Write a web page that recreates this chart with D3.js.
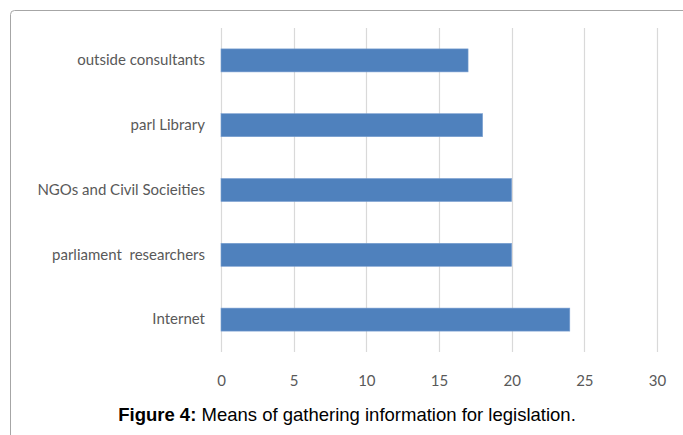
<!DOCTYPE html>
<html><head><meta charset="utf-8">
<script src="https://cdn.jsdelivr.net/npm/d3@7"></script>
<style>body{margin:0;background:#fff}svg{display:block}</style>
</head><body>
<svg id="c" width="683" height="435"></svg>
<script>
const categories = ["outside consultants","parl Library","NGOs and Civil Socieities","parliament  researchers","Internet"];
const values = [17, 18, 20, 20, 24];
const ticks = [0,5,10,15,20,25,30];
const caption = "Means of gathering information for legislation.";

const svg = d3.select("#c");
svg.append("rect").attr("x",10.5).attr("y",10.5).attr("width",690).attr("height",440)
  .attr("rx",4).attr("fill","none").attr("stroke","#a6a6a6").attr("stroke-width",1);

const x = d3.scaleLinear().domain([0,30]).range([221,657]);
const y = d3.scaleBand().domain(categories).range([28,352]).paddingInner(0.645).paddingOuter(0.3225);

const g = svg.append("g");
g.selectAll("line.grid").data(ticks).join("line").attr("class","grid")
  .attr("x1",d=>Math.round(x(d))+0.5).attr("x2",d=>Math.round(x(d))+0.5)
  .attr("y1",28).attr("y2",352).attr("stroke","#d9d9d9").attr("stroke-width",1.2);

g.selectAll("rect.bar").data(values).join("rect").attr("class","bar")
  .attr("x",x(0)).attr("y",(d,i)=>y(categories[i]))
  .attr("width",d=>x(d)-x(0)).attr("height",y.bandwidth())
  .attr("fill","#4f81bd").attr("stroke","#7ba0d1").attr("stroke-width",0.6);

const ax = d3.axisBottom(x).tickValues(ticks).tickSize(0).tickPadding(0);
svg.append("g").attr("transform","translate(0,386)").call(ax)
  .call(s=>s.select(".domain").remove())
  .call(s=>s.selectAll("text").attr("dy",0).attr("fill","#595959")
     .style("font-family","Lato, 'Open Sans', sans-serif").style("font-size","15px"));

const ay = d3.axisLeft(y).tickSize(0).tickPadding(0);
svg.append("g").attr("transform","translate(205,0)").call(ay)
  .call(s=>s.select(".domain").remove())
  .call(s=>s.selectAll("text").attr("fill","#595959").style("white-space","pre")
     .style("font-family","Lato, 'Open Sans', sans-serif").style("font-size","15px"));

const t = svg.append("text").attr("x",347).attr("y",421).attr("text-anchor","middle")
  .style("font-family","'Liberation Sans', Arial, sans-serif").style("font-size","18.5px").attr("fill","#000");
t.append("tspan").attr("font-weight","bold").text("Figure 4:");
t.append("tspan").text(" " + caption);
</script>
</body></html>
